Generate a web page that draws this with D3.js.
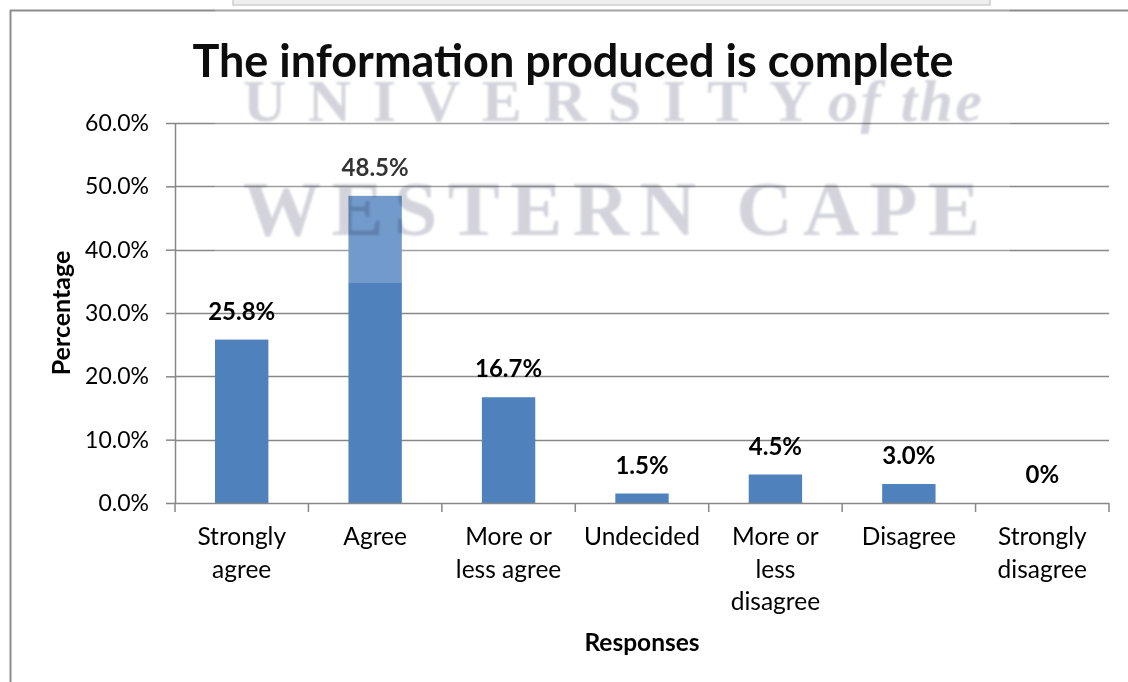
<!DOCTYPE html>
<html>
<head>
<meta charset="utf-8">
<script src="https://cdn.jsdelivr.net/npm/d3@7/dist/d3.min.js"></script>
<style>
  html, body { margin: 0; padding: 0; background: #fff; }
  svg { display: block; }
  text { font-family: Lato, "Open Sans", sans-serif; }
  text.serif { font-family: "Liberation Serif", "DejaVu Serif", serif; font-weight: bold; }
</style>
</head>
<body>
<svg id="chart" width="1128" height="682"></svg>
<script>
// Survey responses: "The information produced is complete"
const categories = [
  ["Strongly", "agree"],
  ["Agree"],
  ["More or", "less agree"],
  ["Undecided"],
  ["More or", "less", "disagree"],
  ["Disagree"],
  ["Strongly", "disagree"]
];
const values = [25.8, 48.5, 16.7, 1.5, 4.5, 3.0, 0];
const valueLabels = ["25.8%", "48.5%", "16.7%", "1.5%", "4.5%", "3.0%", "0%"];
const yTicks = [0, 10, 20, 30, 40, 50, 60];

const titleText = "The information produced is complete";
const xTitle = "Responses";
const yTitle = "Percentage";

const svg = d3.select("#chart");
const W = 1128, H = 682;
const plot = { left: 175, right: 1109, top: 123, bottom: 503 };
const gridColor = "#878787";
const barColor = "#4f81bd";

// Soft blur for the stamp lettering
svg.append("defs").append("filter").attr("id", "soft")
  .append("feGaussianBlur").attr("stdDeviation", 0.9);

// Frame around the chart
svg.append("line").attr("x1", 10.5).attr("x2", 10.5).attr("y1", 10).attr("y2", H)
  .attr("stroke", "#8c8c8c").attr("stroke-width", 2);
svg.append("line").attr("x1", 10).attr("x2", W).attr("y1", 10.5).attr("y2", 10.5)
  .attr("stroke", "#8c8c8c").attr("stroke-width", 2);

const x = d3.scaleBand()
  .domain(d3.range(categories.length))
  .range([plot.left, plot.right])
  .paddingInner(0.6).paddingOuter(0.3);

const y = d3.scaleLinear().domain([0, 60]).range([plot.bottom, plot.top]);

// Horizontal gridlines
svg.append("g")
  .selectAll("line")
  .data(yTicks.filter(t => t > 0))
  .join("line")
  .attr("x1", plot.left).attr("x2", plot.right)
  .attr("y1", d => Math.round(y(d)) + 0.5).attr("y2", d => Math.round(y(d)) + 0.5)
  .attr("stroke", gridColor).attr("stroke-width", 1.5);

// Y axis
const yAxis = svg.append("g")
  .attr("transform", `translate(${plot.left},0)`)
  .call(d3.axisLeft(y).tickValues(yTicks).tickFormat(d => d.toFixed(1) + "%").tickSize(9).tickPadding(17));
yAxis.select(".domain").attr("stroke", gridColor).attr("stroke-width", 1.5)
  .attr("d", `M0.5,${plot.top}V${plot.bottom}`);
yAxis.selectAll(".tick line").attr("stroke", gridColor).attr("stroke-width", 1.5);
yAxis.selectAll(".tick text")
  .attr("fill", "#000").style("font-size", "23px").style("font-family", "Lato, sans-serif");

// Bars
svg.append("g")
  .selectAll("rect")
  .data(values)
  .join("rect")
  .attr("x", (d, i) => x(i))
  .attr("width", x.bandwidth())
  .attr("y", d => y(d))
  .attr("height", d => y(0) - y(d))
  .attr("fill", barColor);

// X axis with ticks at category boundaries
const xb = d3.scaleLinear().domain([0, categories.length]).range([plot.left, plot.right]);
const xAxis = svg.append("g").attr("transform", `translate(0,${plot.bottom})`);
xAxis.append("line").attr("x1", plot.left).attr("x2", plot.right).attr("y1", 0.5).attr("y2", 0.5)
  .attr("stroke", gridColor).attr("stroke-width", 1.5);
xAxis.selectAll("line.tk")
  .data(d3.range(categories.length + 1))
  .join("line").attr("class", "tk")
  .attr("x1", d => xb(d)).attr("x2", d => xb(d))
  .attr("y1", 0).attr("y2", 9)
  .attr("stroke", gridColor).attr("stroke-width", 1.5);

// Category labels (multi-line)
const catG = svg.append("g")
  .selectAll("text")
  .data(categories)
  .join("text")
  .attr("text-anchor", "middle")
  .style("font-size", "24.5px")
  .attr("fill", "#000");
catG.each(function(lines, i) {
  d3.select(this).selectAll("tspan")
    .data(lines)
    .join("tspan")
    .attr("x", x(i) + x.bandwidth() / 2)
    .attr("y", (d, k) => 545 + k * 32.5)
    .text(d => d);
});

// Value labels above bars
svg.append("g")
  .selectAll("text")
  .data(values)
  .join("text")
  .attr("x", (d, i) => x(i) + x.bandwidth() / 2)
  .attr("y", d => y(d) - 20)
  .attr("text-anchor", "middle")
  .style("font-size", "24px").style("font-weight", "bold")
  .attr("fill", "#000")
  .text((d, i) => valueLabels[i]);

// Axis titles
svg.append("text")
  .attr("x", (plot.left + plot.right) / 2).attr("y", 651)
  .attr("text-anchor", "middle")
  .style("font-size", "24.5px").style("font-weight", "bold")
  .text(xTitle);
svg.append("text")
  .attr("transform", `translate(70,${(plot.top + plot.bottom) / 2}) rotate(-90)`)
  .attr("text-anchor", "middle")
  .style("font-size", "25px").style("font-weight", "bold")
  .text(yTitle);

// University stamp laid over the chart
const stamp = svg.append("g");
stamp.append("rect").attr("x", 233).attr("y", -4).attr("width", 757).attr("height", 9)
  .attr("fill", "#ebebeb").attr("stroke", "#c4c4c4").attr("stroke-width", 1.5);
stamp.append("rect").attr("x", 215).attr("y", 0).attr("width", 795).attr("height", 283)
  .attr("fill", "#fff").attr("fill-opacity", 0.2);
const stampText = stamp.append("g")
  .style("mix-blend-mode", "multiply")
  .attr("filter", "url(#soft)")
  .attr("fill", "#d3d4db");
stampText.append("text").attr("class", "serif")
  .attr("x", 243).attr("y", 121)
  .attr("textLength", 569).attr("lengthAdjust", "spacing")
  .style("font-size", "60px")
  .text("UNIVERSITY");
stampText.append("text").attr("class", "serif")
  .attr("x", 828).attr("y", 121)
  .attr("textLength", 154).attr("lengthAdjust", "spacing")
  .style("font-style", "italic")
  .style("font-size", "60px")
  .text("of the");
stampText.append("text").attr("class", "serif")
  .attr("x", 243).attr("y", 235)
  .attr("textLength", 737).attr("lengthAdjust", "spacing")
  .style("font-size", "78px")
  .text("WESTERN CAPE");

// Chart title
svg.append("text")
  .attr("x", 573).attr("y", 77)
  .attr("text-anchor", "middle")
  .style("font-size", "45px").style("font-weight", "bold")
  .attr("fill", "#0d0d0d")
  .text(titleText);
</script>
</body>
</html>
